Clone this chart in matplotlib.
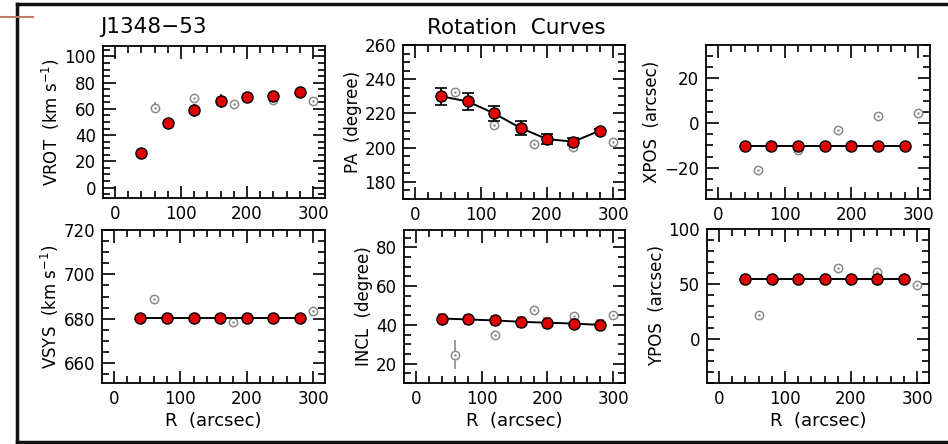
import matplotlib
matplotlib.use("Agg")
import matplotlib.pyplot as plt
from matplotlib.lines import Line2D
from matplotlib.ticker import MultipleLocator
import numpy as np

plt.rcParams['font.family'] = ['DejaVu Sans']

# rings of the fit (filled red) and the free fit (open grey)
r_fit = [40, 80, 120, 160, 200, 240, 280]
r_free = [60, 120, 180, 240, 300]

vrot_fit = [26, 49, 59, 66, 69, 70, 73]
vrot_fit_err = [2, 4, 5, 5, 4, 4, 3]
vrot_free = [61, 68, 64, 67, 66]
vrot_free_err = [4, 3, 3, 3, 3]

pa_fit = [230, 227, 220, 211.5, 205, 203.5, 210]
pa_fit_err = [5, 5, 4.5, 4, 3, 2, 1]
pa_free = [232.5, 213.5, 202, 200.5, 203.5]

xpos_fit = [-10.3] * 7
xpos_free = [-21, -12, -3.2, 3, 4.7]

vsys_fit = [680.5] * 7
vsys_free = [689, 680.5, 678.5, 680.5, 683.3]

incl_fit = [43.3, 42.8, 42.3, 41.6, 41.1, 40.7, 40.0]
incl_fit_err = [2.5, 2.5, 2.5, 2.5, 2.5, 2.5, 2.5]
incl_free = [24.6, 35, 47.8, 44.5, 45]
incl_free_err = [7.5, 0, 0, 0, 0]

ypos_fit = [54.5] * 7
ypos_free = [21.6, 54.5, 64.6, 61.3, 49.4]

W, H = 948, 444
fig = plt.figure(figsize=(W / 100, H / 100), dpi=100)

def box(x0, y0, x1, y1):
    return [x0 / W, 1 - y1 / H, (x1 - x0) / W, (y1 - y0) / H]

red = '#e00000'
grey = '#8a8a8a'

def panel(rect, ylabel, ylim, ymaj, ymin, fit, free, fit_err=None, free_err=None,
          line=True, xlabel=False, err_col='black', cap=4):
    ax = fig.add_axes(rect)
    ax.set_xlim(-18, 318)
    ax.set_ylim(*ylim)
    ax.xaxis.set_major_locator(MultipleLocator(100))
    ax.xaxis.set_minor_locator(MultipleLocator(20))
    ax.yaxis.set_major_locator(MultipleLocator(ymaj))
    ax.yaxis.set_minor_locator(MultipleLocator(ymin))
    ax.tick_params(which='both', direction='in', top=True, right=True, labelsize=12,
                   width=1.2, pad=5)
    ax.tick_params(which='major', length=9)
    ax.tick_params(which='minor', length=5)
    for s in ax.spines.values():
        s.set_linewidth(1.3)
    # open circles of the free fit
    if free_err is not None:
        ax.errorbar(r_free, free, yerr=free_err, fmt='none', ecolor=grey, elinewidth=1.2, zorder=2)
    ax.plot(r_free, free, 'o', ms=6, mfc='white', mec=grey, mew=1.1, zorder=3)
    ax.plot(r_free, free, '.', ms=1.5, color=grey, zorder=3)
    if line:
        ax.plot(r_fit, fit, '-', color='black', lw=1.4, zorder=4)
    if fit_err is not None:
        ax.errorbar(r_fit, fit, yerr=fit_err, fmt='none', ecolor=err_col, elinewidth=1.3,
                    capsize=cap, capthick=1.2, zorder=4)
    ax.plot(r_fit, fit, 'o', ms=8, mfc=red, mec='black', mew=1.0, zorder=5)
    ax.set_ylabel(ylabel, fontsize=12, labelpad=2)
    if xlabel:
        ax.set_xlabel('R  (arcsec)', fontsize=13, labelpad=3)
    return ax

panel(box(103, 46, 325, 198), 'VROT  (km s$^{-1}$)', (-8, 108), 20, 5,
      vrot_fit, vrot_free, vrot_fit_err, vrot_free_err, line=False, err_col='#333333', cap=0)
panel(box(403, 45, 625, 199), 'PA  (degree)', (170, 260), 20, 5,
      pa_fit, pa_free, pa_fit_err)
panel(box(706, 45, 930, 199), 'XPOS  (arcsec)', (-34, 35), 20, 5,
      xpos_fit, xpos_free)
panel(box(102, 230, 325, 383), 'VSYS  (km s$^{-1}$)', (651, 720), 20, 5,
      vsys_fit, vsys_free, xlabel=True)
panel(box(404, 230, 625, 383), 'INCL  (degree)', (10, 89), 20, 5,
      incl_fit, incl_free, incl_fit_err, incl_free_err, xlabel=True, err_col='#e06060', cap=3)
panel(box(707, 229, 929, 383), 'YPOS  (arcsec)', (-40, 100), 50, 10,
      ypos_fit, ypos_free, xlabel=True)

fig.text(100 / W, 1 - 33 / H, 'J1348\u221253', fontsize=15.5, ha='left', va='baseline')
fig.text(516 / W, 1 - 34 / H, 'Rotation  Curves', fontsize=15.5, ha='center', va='baseline')

# slide frame
fig.add_artist(Line2D([17 / W, 1], [1 - 4 / H, 1 - 4 / H], color='#111111', lw=2.5))
fig.add_artist(Line2D([17 / W, 1], [1 - 442 / H, 1 - 442 / H], color='#111111', lw=2.5))
fig.add_artist(Line2D([17 / W, 17 / W], [1 - 4 / H, 1 - 442 / H], color='#111111', lw=2.5))
fig.add_artist(Line2D([0, 33 / W], [1 - 17 / H, 1 - 17 / H], color='#c07a66', lw=1.5))

fig.savefig('out.png', dpi=100)
